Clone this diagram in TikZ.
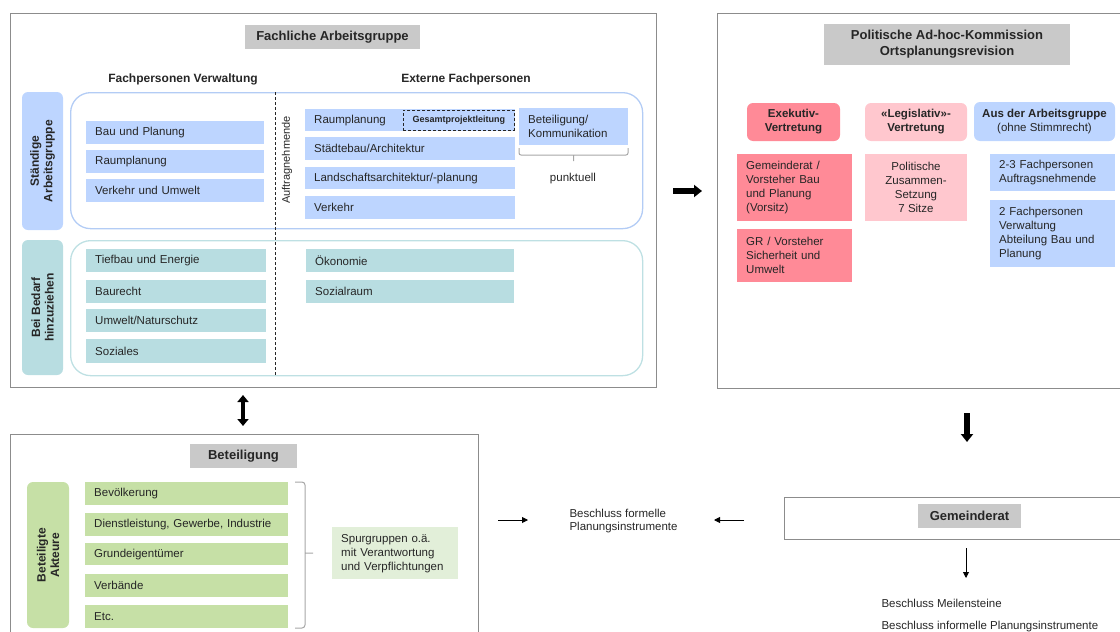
\documentclass[tikz,border=0pt]{standalone}
\usepackage{fontspec}
\setmainfont{Liberation Sans}
\usepackage{tikz}
\usetikzlibrary{positioning, arrows.meta, calc}

\definecolor{framegray}{HTML}{8C8C8C}
\definecolor{titlegray}{HTML}{C9C9C9}
\definecolor{agblue}{HTML}{BDD5FF}
\definecolor{agblueline}{HTML}{B3CCF5}
\definecolor{agteal}{HTML}{B8DDE1}
\definecolor{agtealline}{HTML}{BEE0E3}
\definecolor{btgreen}{HTML}{C6E0A6}
\definecolor{btlight}{HTML}{E2EFD9}
\definecolor{pkred}{HTML}{FF8A97}
\definecolor{pkpink}{HTML}{FFC7CE}
\definecolor{txtgray}{HTML}{262626}
\definecolor{bracegray}{HTML}{A6A6A6}

\def\txtfont{\fontsize{11.5}{14}\selectfont}
\def\headfont{\fontsize{12}{13.5}\selectfont\bfseries}
\def\titlefont{\fontsize{13}{16}\selectfont\bfseries}

\tikzset{
    itembox/.style={anchor=north west, inner xsep=9pt, inner ysep=1pt,
        align=left, font=\txtfont, text=txtgray},
    headbox/.style={rounded corners=6pt, align=center, font=\txtfont,
        text=txtgray, inner sep=1pt},
    sidelabel/.style={rotate=90, rounded corners=6pt, align=center,
        font=\headfont, text=txtgray, inner sep=1pt},
    titlebox/.style={fill=titlegray, font=\titlefont, text=txtgray,
        align=center, inner sep=1pt},
    outerbox/.style={draw=framegray, line width=0.9pt, anchor=north west, inner sep=0pt},
    groupframe/.style={rounded corners=20pt, line width=1.3pt, anchor=north west, inner sep=0pt},
    heavyarrow/.style={line width=6.5pt, -{Triangle[length=8pt,width=12pt]}},
    thinarrow/.style={line width=0.9pt, -{Triangle[length=6pt,width=6pt]}}
}

\begin{document}
\begin{tikzpicture}[x=1pt, y=-1pt]
    \path[use as bounding box] (0,0) rectangle (1120,632);
    \clip (0,0) rectangle (1120,632);

    % outer boxes
    \foreach \name/\x/\y/\w/\h in {
        fagbox/10/13/646/374,
        pakbox/717/13/430/375,
        betbox/10/434/468/220,
        grbox/784/497/360/42}
    {
        \node[outerbox, minimum width=\w pt, minimum height=\h pt] (\name) at (\x,\y) {};
    }

    % titles
    \node[titlebox, minimum width=175pt, minimum height=24pt] (fagtitle) at (332.5,37) {Fachliche Arbeitsgruppe};
    \node[titlebox, minimum width=246pt, minimum height=41pt] (paktitle) at (947,44.5) {Politische Ad-hoc-Kommission\\Ortsplanungsrevision};
    \node[titlebox, minimum width=107pt, minimum height=24pt] (bettitle) at (243.5,456) {Beteiligung};
    \node[titlebox, minimum width=103pt, minimum height=24pt] (grtitle) at (969.5,516) {Gemeinderat};

    \node[font=\headfont, text=txtgray] (hverw) at (183,79) {Fachpersonen Verwaltung};
    \node[font=\headfont, text=txtgray] (hextern) at (466,79) {Externe Fachpersonen};

    % group frames and side labels
    \node[groupframe, draw=agblueline, minimum width=572pt, minimum height=136pt] (stframe) at (70,92) {};
    \node[groupframe, draw=agtealline, minimum width=572pt, minimum height=135pt] (bbframe) at (70,240) {};

    \node[sidelabel, fill=agblue, minimum width=138pt, minimum height=41pt] (stlabel) at (42.5,161) {Ständige\\Arbeitsgruppe};
    \node[sidelabel, fill=agteal, minimum width=135pt, minimum height=41pt] (bblabel) at (42.5,307.5) {Bei Bedarf\\hinzuziehen};
    \node[sidelabel, fill=btgreen, minimum width=146pt, minimum height=42pt] (aklabel) at (48,555) {Beteiligte\\Akteure};

    % divider
    \coordinate (divtop) at (275,92);
    \coordinate (divbot) at (275,375);
    \draw[txtgray, densely dashed, line width=0.8pt] (divtop) -- (divbot);
    \node[rotate=90, font=\fontsize{11}{13}\selectfont, text=txtgray] (auftrag) at (287,160) {Auftragnehmende};

    % item boxes
    \foreach \name/\x/\y/\w/\h/\col/\txt in {
        vbau/86/121/178/23/agblue/{Bau und Planung},
        vraum/86/150/178/23/agblue/{Raumplanung},
        vverk/86/179/178/23/agblue/{Verkehr und Umwelt},
        eraum/305/109/210/22/agblue/{Raumplanung},
        estadt/305/137/210/23/agblue/{Städtebau/Architektur},
        eland/305/167/210/22/agblue/{Landschaftsarchitektur/-planung},
        everk/305/196/210/23/agblue/{Verkehr},
        ebet/519/108/109/37/agblue/{Beteiligung/\\Kommunikation},
        tief/86/249/180/23/agteal/{Tiefbau und Energie},
        baur/86/280/180/23/agteal/{Baurecht},
        umw/86/309/180/23/agteal/{Umwelt/Naturschutz},
        soz/86/339/180/24/agteal/{Soziales},
        oek/306/249/208/23/agteal/{Ökonomie},
        sozr/306/280/208/23/agteal/{Sozialraum},
        gemr/737/154/115/67/pkred/{Gemeinderat /\\Vorsteher Bau\\und Planung\\(Vorsitz)},
        grv/737/229/115/53/pkred/{GR / Vorsteher\\Sicherheit und\\Umwelt},
        fp23/990/154/125/37/agblue/{2-3 Fachpersonen\\Auftragsnehmende},
        fp2/990/200/125/67/agblue/{2 Fachpersonen\\Verwaltung\\Abteilung Bau und\\Planung},
        bev/85/482/203/23/btgreen/{Bevölkerung},
        dien/85/513/203/23/btgreen/{Dienstleistung, Gewerbe, Industrie},
        grund/85/543/203/22/btgreen/{Grundeigentümer},
        verb/85/574/203/23/btgreen/{Verbände},
        etc/85/605/203/23/btgreen/{Etc.},
        spur/332/527/126/52/btlight/{Spurgruppen o.ä.\\mit Verantwortung\\und Verpflichtungen}}
    {
        \pgfmathsetmacro\tw{\w-18}
        \node[itembox, fill=\col, text width=\tw pt, minimum height=\h pt] (\name) at (\x,\y) {\txt};
    }

    \node[draw=txtgray, densely dashed, line width=0.8pt, anchor=north west, inner sep=0pt,
        minimum width=111pt, minimum height=20pt, text=txtgray,
        font=\fontsize{9}{11}\selectfont\bfseries] (gpl) at (403,109.5) {Gesamtprojektleitung};

    % commission heads
    \node[headbox, fill=pkred, minimum width=93pt, minimum height=38pt] (exek) at (793.5,122) {\textbf{Exekutiv-}\\\textbf{Vertretung}};
    \node[headbox, fill=pkpink, minimum width=102pt, minimum height=38pt] (legis) at (916,122) {\textbf{«Legislativ»-}\\\textbf{Vertretung}};
    \node[headbox, fill=agblue, minimum width=141pt, minimum height=39pt] (ausag) at (1044.5,121.5) {\textbf{Aus der Arbeitsgruppe}\\(ohne Stimmrecht)};
    \node[fill=pkpink, align=center, font=\txtfont, text=txtgray, inner sep=1pt,
        minimum width=102pt, minimum height=67pt] (polit) at (916,187.5) {Politische\\Zusammen-\\Setzung\\7 Sitze};

    % brackets
    \draw[bracegray, line width=1pt, rounded corners=2pt]
        (519,148) -- (519,155) -- (628,155) -- (628,148)
        (573.5,155) -- (573.5,161);
    \node[font=\txtfont, text=txtgray] (punkt) at (573,179) {punktuell};

    \draw[bracegray, line width=1pt, rounded corners=3pt]
        (295,482) -- (305,482) -- (305,628) -- (295,628)
        (305,553) -- (313,553);

    % decisions
    \node[anchor=west, align=left, font=\fontsize{11.5}{13}\selectfont, text=txtgray] (bformell) at (566,521.5) {Beschluss formelle\\Planungsinstrumente};
    \node[anchor=west, font=\txtfont, text=txtgray] (bmeilen) at (878,603.5) {Beschluss Meilensteine};
    \node[anchor=west, font=\txtfont, text=txtgray] (binformell) at (878,626.5) {Beschluss informelle Planungsinstrumente};

    % arrows
    \coordinate (agS) at (673,191);
    \coordinate (agE) at (702,191);
    \coordinate (btS) at (243,395);
    \coordinate (btE) at (243,426);
    \coordinate (pkS) at (967,413);
    \coordinate (pkE) at (967,442);
    \coordinate (f1S) at (498,520);
    \coordinate (f1E) at (528,520);
    \coordinate (f2S) at (744,520);
    \coordinate (f2E) at (714,520);
    \coordinate (mS) at (966,548);
    \coordinate (mE) at (966,578);

    \draw[heavyarrow] (agS) -- (agE);
    \draw[heavyarrow] (pkS) -- (pkE);
    \draw[line width=4.5pt, {Triangle[length=7pt,width=11pt]}-{Triangle[length=7pt,width=11pt]}] (btS) -- (btE);

    \foreach \start/\end in {f1S/f1E, f2S/f2E, mS/mE}
    {
        \draw[thinarrow] (\start) -- (\end);
    }
\end{tikzpicture}
\end{document}
